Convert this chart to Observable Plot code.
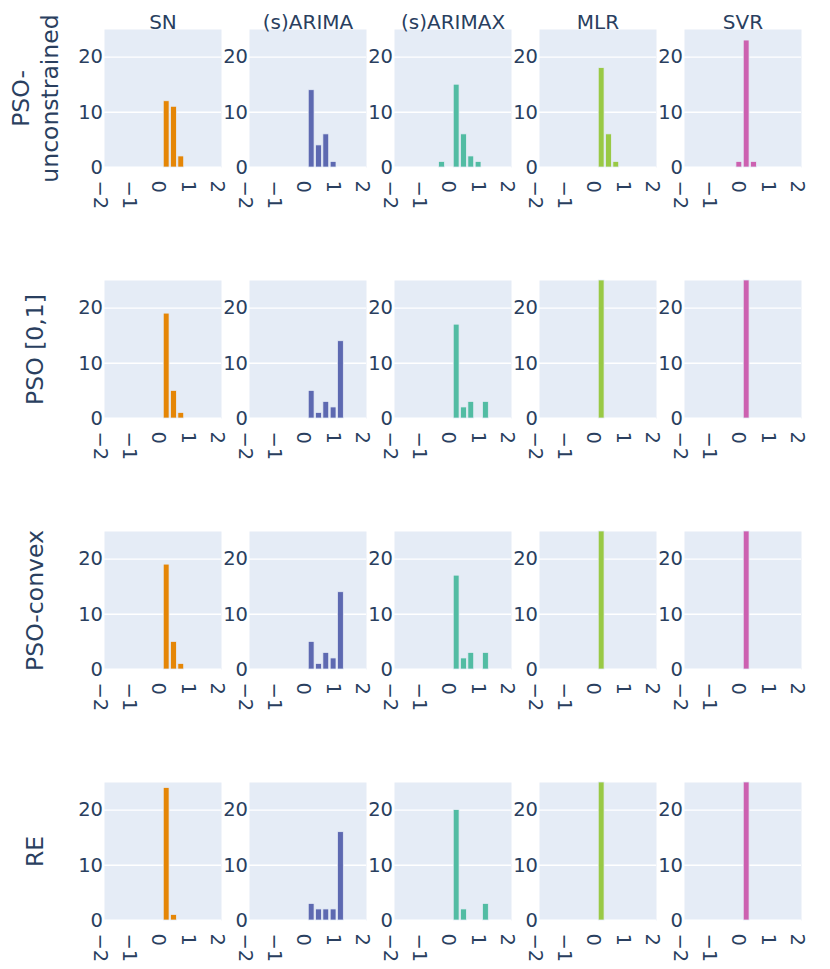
<!DOCTYPE html>
<html>
<head>
<meta charset="utf-8">
<script src="https://cdn.jsdelivr.net/npm/d3@7"></script>
<script src="https://cdn.jsdelivr.net/npm/@observablehq/plot@0.6"></script>
<style>
  html, body { margin: 0; padding: 0; background: white; }
  #chart svg, #chart svg text { font-family: "DejaVu Sans", Verdana, sans-serif !important; }
</style>
</head>
<body>
<div id="chart"></div>
<script>
// Columns (models) and rows (weighting schemes)
const methods = ["SN", "(s)ARIMA", "(s)ARIMAX", "MLR", "SVR"];
const rows = ["PSO-unconstrained", "PSO [0,1]", "PSO-convex", "RE"];
const rowLabels = ["PSO-\nunconstrained", "PSO [0,1]", "PSO-convex", "RE"];
const colors = ["#E58606", "#5D69B1", "#52BCA3", "#99C945", "#CC61B0"];

// Histogram bin starts (bin width 0.25)
const binStart = [-0.5, -0.25, 0, 0.25, 0.5, 0.75, 1.0];
const binWidth = 0.25;

// Counts per bin, one array per model, for each row
const countsPsoUnconstrained = [
  [0, 0, 12, 11, 2, 0, 0],   // SN
  [0, 0, 14, 4, 6, 1, 0],    // (s)ARIMA
  [1, 0, 15, 6, 2, 1, 0],    // (s)ARIMAX
  [0, 0, 18, 6, 1, 0, 0],    // MLR
  [0, 1, 23, 1, 0, 0, 0]     // SVR
];
const countsPso01 = [
  [0, 0, 19, 5, 1, 0, 0],
  [0, 0, 5, 1, 3, 2, 14],
  [0, 0, 17, 2, 3, 0, 3],
  [0, 0, 25, 0, 0, 0, 0],
  [0, 0, 25, 0, 0, 0, 0]
];
const countsPsoConvex = [
  [0, 0, 19, 5, 1, 0, 0],
  [0, 0, 5, 1, 3, 2, 14],
  [0, 0, 17, 2, 3, 0, 3],
  [0, 0, 25, 0, 0, 0, 0],
  [0, 0, 25, 0, 0, 0, 0]
];
const countsRE = [
  [0, 0, 24, 1, 0, 0, 0],
  [0, 0, 3, 2, 2, 2, 16],
  [0, 0, 20, 2, 0, 0, 3],
  [0, 0, 25, 0, 0, 0, 0],
  [0, 0, 25, 0, 0, 0, 0]
];

const xTicks = [-2, -1, 0, 1, 2];
const yTicks = [0, 10, 20];

// Build the table
const allCounts = [countsPsoUnconstrained, countsPso01, countsPsoConvex, countsRE];
const table = [];
allCounts.forEach((rowCounts, r) => {
  rowCounts.forEach((arr, m) => {
    arr.forEach((c, i) => {
      if (c > 0) table.push({
        row: rows[r], method: methods[m],
        x1: binStart[i], x2: binStart[i] + binWidth, count: c
      });
    });
  });
});

const fmt = d3.format("d");

const chart = Plot.plot({
  width: 830,
  height: 969,
  marginLeft: 101.7,
  marginRight: 27.3,
  marginTop: 28,
  marginBottom: 47.3,
  style: { fontFamily: "DejaVu Sans", color: "#2a3f5f", background: "white", overflow: "visible" },
  x: { domain: [-2, 2] },
  y: { domain: [0, 25] },
  fx: { domain: methods, paddingInner: 0.1918, paddingOuter: 0, axis: null },
  fy: { domain: rows, paddingInner: 0.4498, paddingOuter: 0, axis: null },
  color: { domain: methods, range: colors },
  marks: [
    Plot.frame({ fill: "#E5ECF6", stroke: null }),
    Plot.gridY(yTicks.filter(d => d > 0), { stroke: "white", strokeOpacity: 1, strokeWidth: 1.4 }),
    Plot.ruleY([0], { stroke: "white", strokeWidth: 2 }),
    Plot.rectY(table, {
      x1: "x1", x2: "x2", y: "count", fx: "method", fy: "row", fill: "method",
      insetLeft: 0.75, insetRight: 0.75, stroke: "#E5ECF6", strokeWidth: 0.75
    }),
    Plot.axisY({ ticks: yTicks, tickFormat: fmt, tickSize: 0, tickPadding: 1.5, fontSize: 19.5, label: null, facetAnchor: null }),
    Plot.axisX({
      ticks: xTicks, tickFormat: fmt, tickSize: 0, tickRotate: 90, textAnchor: "start", lineAnchor: "middle",
      tickPadding: 13, dx: -4.5, fontSize: 19.5, label: null, facetAnchor: null
    }),
    Plot.text(methods, { fx: d => d, fy: () => rows[0], text: d => d, frameAnchor: "top", dy: -14.3, fontSize: 20 }),
    Plot.text(rows, {
      fy: d => d, fx: () => methods[0], text: (d, i) => rowLabels[i],
      frameAnchor: "left", textAnchor: "middle", dx: -70.5, rotate: -90, fontSize: 23.5, lineHeight: 1.25
    })
  ]
});
document.getElementById("chart").appendChild(chart);
</script>
</body>
</html>
